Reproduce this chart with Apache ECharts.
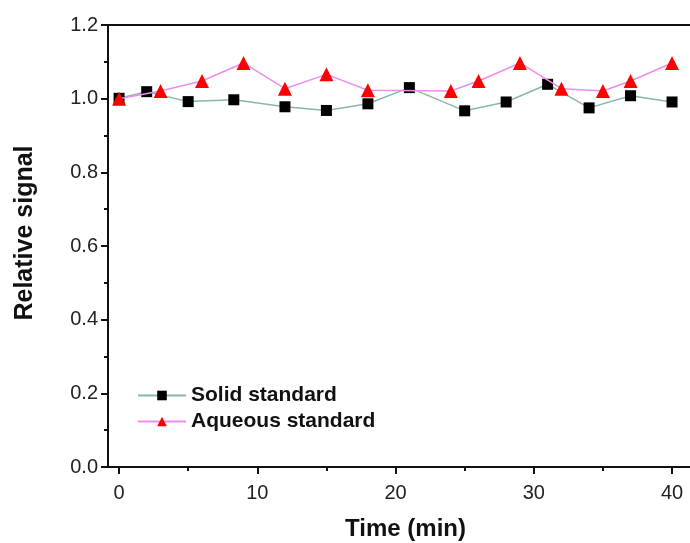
<!DOCTYPE html>
<html>
<head>
<meta charset="utf-8">
<script src="https://cdn.jsdelivr.net/npm/echarts@6/dist/echarts.min.js"></script>
<style>
html,body{margin:0;padding:0;background:#fff;}
#c{width:690px;height:543px;}
</style>
</head>
<body>
<div id="c"></div>
<script>
const solidTime = [0, 2, 5, 8.3, 12, 15, 18, 21, 25, 28, 31, 34, 37, 40];
const solidSignal = [1.001, 1.019, 0.992, 0.997, 0.978, 0.968, 0.986, 1.030, 0.967, 0.991, 1.039, 0.975, 1.008, 0.991];
const aqueousTime = [0, 3, 6, 9, 12, 15, 18, 24, 26, 29, 32, 35, 37, 40];
const aqueousSignal = [1.0, 1.021, 1.048, 1.097, 1.027, 1.066, 1.023, 1.021, 1.048, 1.097, 1.027, 1.021, 1.048, 1.097];
const seriesNames = ['Solid standard', 'Aqueous standard'];
const xMajorTicks = [0, 10, 20, 30, 40];
const xMinorTicks = [5, 15, 25, 35];
const xTitle = 'Time (min)';
const yTitle = 'Relative signal';

const X_MIN = -0.8, X_MAX = 42.24;
const chart = echarts.init(document.getElementById('c'));
const font = 'Liberation Sans, Arial, sans-serif';
chart.setOption({
  animation: false,
  backgroundColor: '#fff',
  grid: {left: 108, top: 25, right: -13, bottom: 76, containLabel: false, outerBoundsMode: 'none'},
  legend: {
    orient: 'vertical', left: 137, top: 385, padding: 0, itemWidth: 48, itemHeight: 12, itemGap: 5,
    textStyle: {fontFamily: font, fontSize: 21, fontWeight: 'bold', color: '#111'},
    data: seriesNames
  },
  xAxis: [{
    type: 'value', min: X_MIN, max: X_MAX,
    name: xTitle, nameLocation: 'middle', nameGap: 50,
    nameTextStyle: {fontFamily: font, fontSize: 24, fontWeight: 'bold', color: '#111'},
    axisLine: {onZero: false, lineStyle: {color: '#111', width: 2}},
    axisTick: {inside: false, length: 7, customValues: xMajorTicks, lineStyle: {width: 2, color: '#111'}},
    axisLabel: {fontFamily: font, fontSize: 20, color: '#222', margin: 16, customValues: xMajorTicks},
    splitLine: {show: false}
  }, {
    type: 'value', position: 'top', min: X_MIN, max: X_MAX,
    axisLine: {show: true, onZero: false, lineStyle: {color: '#111', width: 2}},
    axisTick: {show: false}, axisLabel: {show: false}, splitLine: {show: false}
  }, {
    type: 'value', position: 'bottom', min: X_MIN, max: X_MAX,
    axisLine: {show: false, onZero: false},
    axisTick: {show: true, inside: false, length: 4, customValues: xMinorTicks, lineStyle: {width: 2, color: '#111'}},
    axisLabel: {show: false}, splitLine: {show: false}
  }],
  yAxis: {
    type: 'value', min: 0, max: 1.2, interval: 0.2,
    name: yTitle, nameLocation: 'middle', nameGap: 70,
    nameTextStyle: {fontFamily: font, fontSize: 25, fontWeight: 'bold', color: '#111', padding: [0, 0, 0, 26]},
    axisLine: {show: true, onZero: false, lineStyle: {color: '#111', width: 2}},
    axisTick: {inside: false, length: 7, lineStyle: {width: 2, color: '#111'}},
    minorTick: {show: true, splitNumber: 2, length: 4, lineStyle: {width: 2, color: '#111'}},
    axisLabel: {fontFamily: font, fontSize: 20, color: '#222', margin: 10, formatter: v => v.toFixed(1)},
    splitLine: {show: false}
  },
  series: [{
    name: seriesNames[0], type: 'line', xAxisIndex: 0,
    data: solidTime.map((t, i) => [t, solidSignal[i]]),
    symbol: 'rect', symbolSize: 11,
    itemStyle: {color: '#000'},
    lineStyle: {color: '#8ab8a4', width: 1.5},
    z: 2
  }, {
    name: seriesNames[1], type: 'line', xAxisIndex: 0,
    data: aqueousTime.map((t, i) => [t, aqueousSignal[i]]),
    symbol: 'triangle', symbolSize: 14,
    itemStyle: {color: '#ff0000'},
    lineStyle: {color: '#f08cf0', width: 1.5},
    z: 3
  }]
});
</script>
</body>
</html>
